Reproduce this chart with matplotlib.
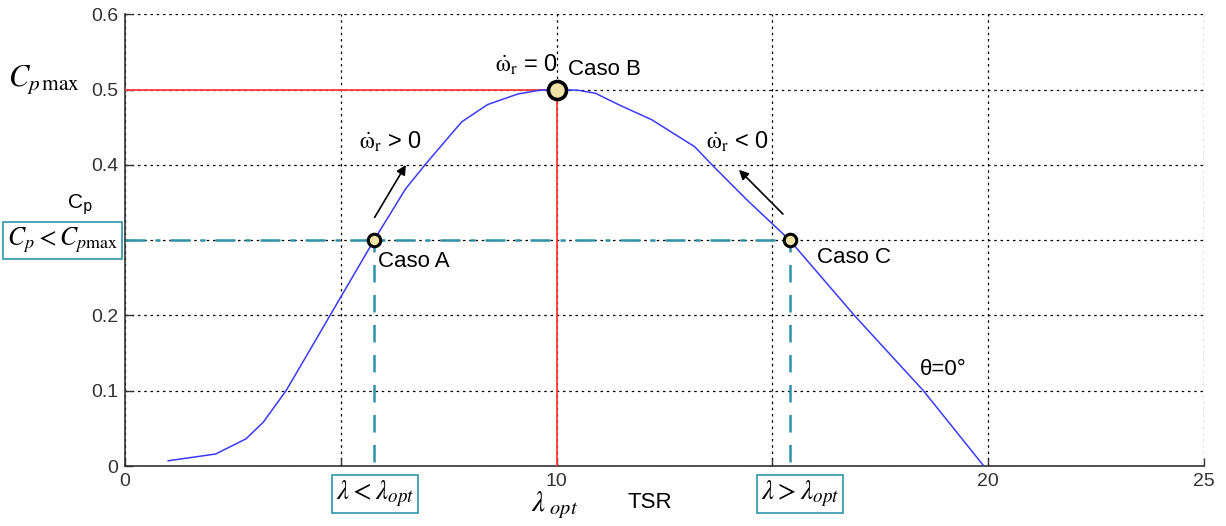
import matplotlib
matplotlib.use("Agg")
import matplotlib.pyplot as plt

plt.rcParams['font.family'] = ['Liberation Sans', 'DejaVu Sans']

# Power coefficient curve Cp(TSR) for pitch angle 0 deg
tsr = [1.0, 2.1, 2.8, 3.2, 3.73, 4.17, 4.75, 5.77, 6.5, 6.95, 7.8, 8.4, 9.1,
       9.6, 10.0, 10.5, 10.9, 11.47, 12.2, 13.2, 13.6, 14.4, 15.4, 16.9,
       18.5, 19.9]
cp = [0.007, 0.016, 0.036, 0.058, 0.100, 0.143, 0.200, 0.300, 0.368, 0.400,
      0.457, 0.480, 0.494, 0.499, 0.500, 0.499, 0.495, 0.479, 0.460, 0.424,
      0.400, 0.354, 0.300, 0.200, 0.100, 0.0]

# Operating points
case_names = ['Caso A', 'Caso B', 'Caso C']
case_tsr = [5.77, 10.0, 15.4]
case_cp = [0.30, 0.50, 0.30]

x_ticks = [0, 5, 10, 15, 20, 25]
x_ticklabels = ['0', '', '10', '', '20', '25']
y_ticks = [0, 0.1, 0.2, 0.3, 0.4, 0.5, 0.6]
y_ticklabels = ['0', '0.1', '0.2', '', '0.4', '0.5', '0.6']

teal = '#2f93a8'
red = '#ff3b3b'
blue = '#3a3aff'
marker_fill = '#efe2a6'

fig = plt.figure(figsize=(12.26, 5.26), dpi=100)
ax = fig.add_axes([0.102, 0.114, 0.880, 0.859])
ax.set_xlim(0, 25)
ax.set_ylim(0, 0.6)

ax.set_xticks(x_ticks)
ax.set_xticklabels(x_ticklabels)
ax.set_yticks(y_ticks)
ax.set_yticklabels(y_ticklabels)
ax.tick_params(direction='in', length=6, width=1.0, colors='#333333',
               labelsize=14, pad=5)
for s in ['top', 'right']:
    ax.spines[s].set_visible(False)
for s in ['left', 'bottom']:
    ax.spines[s].set_color('#333333')
    ax.spines[s].set_linewidth(1.2)
ax.grid(True, color='black', linestyle=(0, (2, 3)), linewidth=0.9)
ax.set_axisbelow(True)

# Reference lines at optimal point
ax.plot([0, case_tsr[1]], [case_cp[1], case_cp[1]], color=red, lw=1.3, zorder=3)
ax.plot([case_tsr[1], case_tsr[1]], [0, case_cp[1]], color=red, lw=1.3, zorder=3)

# Sub-optimal operating level
ax.plot([0, case_tsr[2]], [case_cp[0], case_cp[2]], color=teal, lw=1.8,
        linestyle=(0, (8, 4, 2, 4)), zorder=3)
ax.plot([case_tsr[0], case_tsr[0]], [0.005, case_cp[0]], color=teal, lw=1.8,
        linestyle=(0, (7, 5)), zorder=3)
ax.plot([case_tsr[2], case_tsr[2]], [0.005, case_cp[2]], color=teal, lw=1.8,
        linestyle=(0, (7, 5)), zorder=3)

ax.plot(tsr, cp, color=blue, lw=1.1, zorder=4)

# Operating point markers
ax.plot(case_tsr[1], case_cp[1], 'o', ms=13, mfc=marker_fill, mec='black',
        mew=2.6, zorder=6, clip_on=False)
ax.plot([case_tsr[0], case_tsr[2]], [case_cp[0], case_cp[2]], 'o', ms=9,
        mfc=marker_fill, mec='black', mew=2.2, zorder=6)

# Direction arrows
arrow_kw = dict(arrowstyle='-|>', color='black', lw=1.2, mutation_scale=14)
ax.annotate('', xy=(6.54, 0.403), xytext=(5.75, 0.327), arrowprops=arrow_kw)
ax.annotate('', xy=(14.18, 0.396), xytext=(15.29, 0.332), arrowprops=arrow_kw)

stix = dict(math_fontfamily='stix')
omega = r'$\dot{\mathrm{\omega}}_{\mathrm{r}}$'
ax.text(6.14, 0.43, omega + ' > 0', fontsize=17,
        ha='center', va='center', **stix)
ax.text(9.31, 0.533, omega + ' = 0', fontsize=17,
        ha='center', va='center', **stix)
ax.text(14.2, 0.43, omega + ' < 0', fontsize=17,
        ha='center', va='center', **stix)

ax.text(10.26, 0.527, case_names[1], fontsize=16, ha='left', va='center')
ax.text(5.86, 0.271, case_names[0], fontsize=16, ha='left', va='center')
ax.text(16.03, 0.277, case_names[2], fontsize=16, ha='left', va='center')
ax.text(18.42, 0.128, 'θ=0°', fontsize=16, ha='left', va='center')

# Axis annotations outside the plotting area
ax.text(-1.04, 0.513, r'$C_{p\,\mathrm{max}}$', fontsize=22, ha='right',
        va='center', clip_on=False, **stix)
ax.text(-1.04, 0.347, r'C$_{\mathrm{p}}$', fontsize=15, ha='center',
        va='center', clip_on=False, math_fontfamily='dejavusans')
box_kw = dict(boxstyle='square,pad=0.15', fc='white', ec=teal, lw=1.2)
ax.text(-1.44, 0.30, r'$C_p < C_{p\mathrm{max}}$', fontsize=18.5,
        ha='center', va='center', bbox=box_kw, clip_on=False, **stix)
ax.text(5.79, -0.037, r'$\lambda < \lambda_{opt}$', fontsize=19.5,
        ha='center', va='center', bbox=box_kw, clip_on=False, **stix)
ax.text(15.64, -0.037, r'$\lambda > \lambda_{opt}$', fontsize=19.5,
        ha='center', va='center', bbox=box_kw, clip_on=False, **stix)
ax.text(9.96, -0.052, r'$\lambda_{\ opt}$', fontsize=21, ha='center',
        va='center', clip_on=False, **stix)
ax.text(12.16, -0.049, 'TSR', fontsize=16, ha='center', va='center',
        clip_on=False)

fig.savefig('out.png', dpi=100, facecolor='white')
